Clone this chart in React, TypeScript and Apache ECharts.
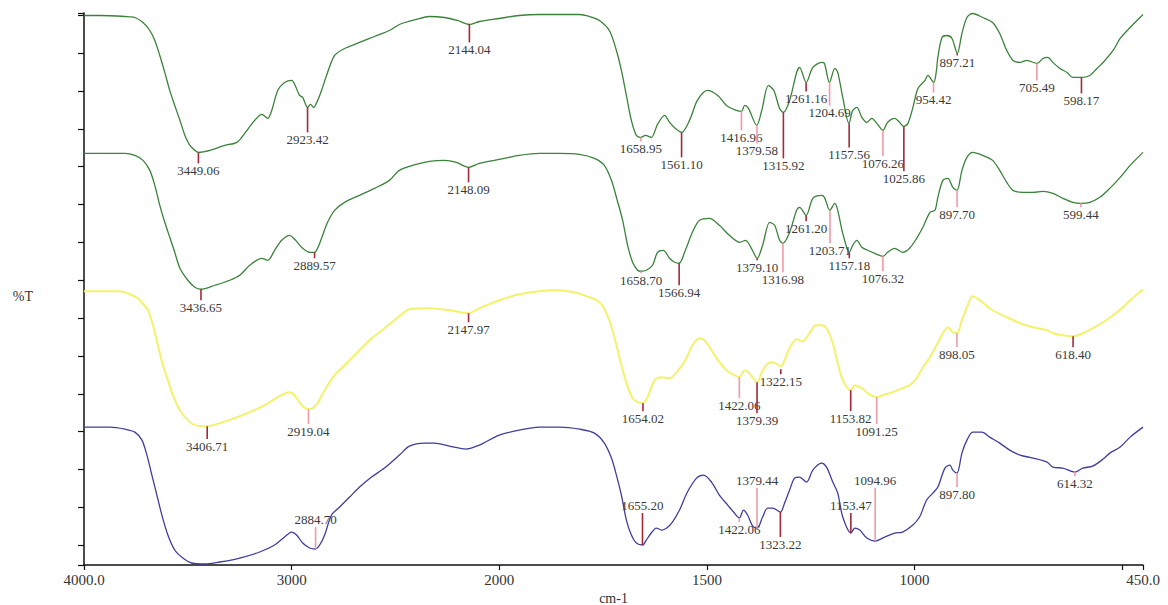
import React, { useEffect, useRef } from "react";
import * as echarts from "echarts";

// x axis (wavenumber, cm-1) ticks and labels
const xTickWavenumbers = [4000, 3000, 2000, 1500, 1000, 500, 450];
const xLabelWavenumbers = [4000, 3000, 2000, 1500, 1000, 450];
const xLabelTexts = ["4000.0", "3000", "2000", "1500", "1000", "450.0"];
// y axis (%T, stacked offset units) tick positions
const yTicks = [0, 20, 58, 96, 134, 171, 209, 247, 285, 323, 361, 399, 436, 474, 512, 550, 552.5];

// spectra: [wavenumber, %T (offset units)]
const spectrumA = [[4000,550],[3923,550],[3803,549],[3755,548],[3716,543],[3683,535],[3659,525],[3635,510],[3611,493],[3587,475],[3563,460],[3538,445],[3514,430],[3490,420],[3466,415],[3449,413],[3394,415],[3322,420],[3264,423],[3226,432],[3178,445],[3144,451],[3115,447],[3096,455],[3067,475],[3034,483],[3000,485],[2981,479],[2962,470],[2947,468],[2923,458],[2909,461],[2894,458],[2875,465],[2856,475],[2832,490],[2793,510],[2745,517],[2673,523],[2601,529],[2529,535],[2481,541],[2400,546],[2337,549],[2264,548],[2202,545],[2144,541],[2096,544],[2000,547],[1952,550],[1904,551],[1855,551],[1807,551],[1783,549],[1759,545],[1735,535],[1718,515],[1706,495],[1694,470],[1682,445],[1670,430],[1659,428],[1648,430],[1634,428],[1619,441],[1602,450],[1590,443],[1576,437],[1561,433],[1542,445],[1523,465],[1499,475],[1474,470],[1453,460],[1429,455],[1417,454],[1409,460],[1400,457],[1380,440],[1368,455],[1352,480],[1339,475],[1325,457],[1316,453],[1301,465],[1284,493],[1277,498],[1261,483],[1245,498],[1224,503],[1217,502],[1205,483],[1192,497],[1185,493],[1173,468],[1158,442],[1149,455],[1139,458],[1127,448],[1115,443],[1103,447],[1091,442],[1076,435],[1065,443],[1048,447],[1036,443],[1026,439],[1016,442],[1004,458],[992,477],[975,485],[968,490],[954,483],[948,493],[944,508],[934,528],[922,530],[910,527],[897,512],[886,532],[874,548],[860,552],[836,548],[812,543],[795,532],[778,515],[763,505],[746,503],[730,505],[705,502],[691,507],[679,508],[667,503],[650,497],[633,493],[619,488],[598,488],[578,490],[561,497],[546,503],[522,515],[505,527],[481,538],[450,551]];
const spectrumB = [[4000,412],[3803,412],[3755,410],[3716,405],[3683,395],[3659,380],[3635,360],[3611,343],[3587,328],[3563,313],[3538,297],[3500,285],[3466,278],[3437,276],[3370,280],[3298,285],[3250,290],[3202,300],[3144,307],[3115,305],[3082,315],[3048,325],[3010,330],[2981,325],[2947,317],[2913,313],[2890,313],[2875,317],[2856,327],[2827,343],[2793,355],[2745,363],[2673,370],[2601,377],[2529,385],[2481,395],[2400,401],[2337,404],[2264,405],[2207,403],[2148,398],[2096,402],[2000,406],[1952,410],[1904,412],[1855,412],[1807,411],[1771,407],[1747,400],[1730,385],[1716,365],[1703,345],[1691,320],[1679,303],[1667,295],[1659,294],[1646,295],[1631,300],[1619,313],[1605,315],[1590,307],[1578,303],[1567,302],[1552,315],[1535,333],[1518,345],[1494,347],[1470,340],[1446,330],[1421,323],[1407,325],[1393,317],[1379,307],[1366,320],[1349,343],[1337,340],[1325,325],[1317,322],[1301,333],[1284,355],[1277,358],[1261,350],[1245,367],[1224,370],[1217,368],[1204,355],[1192,362],[1185,355],[1173,332],[1157,313],[1149,320],[1139,325],[1127,318],[1113,315],[1096,312],[1076,309],[1065,313],[1048,317],[1029,313],[1012,317],[995,327],[980,338],[963,353],[951,355],[944,368],[932,385],[920,387],[908,378],[898,375],[886,395],[874,408],[860,413],[836,410],[812,405],[795,395],[778,383],[763,375],[739,373],[715,373],[691,374],[667,372],[643,367],[619,363],[599,362],[578,363],[554,368],[530,377],[505,388],[481,400],[450,413]];
const spectrumC = [[4000,274],[3827,274],[3779,271],[3740,267],[3731,265],[3692,255],[3668,240],[3644,220],[3620,200],[3596,185],[3572,170],[3538,155],[3500,145],[3466,140],[3407,139],[3346,142],[3274,147],[3202,153],[3130,160],[3058,169],[3010,173],[2986,170],[2952,160],[2919,156],[2899,157],[2875,162],[2841,175],[2793,190],[2745,200],[2697,210],[2625,225],[2553,237],[2481,249],[2433,256],[2337,257],[2240,255],[2148,252],[2096,257],[2000,265],[1952,271],[1904,274],[1863,275],[1819,273],[1783,268],[1766,265],[1752,260],[1735,245],[1718,220],[1706,200],[1692,180],[1679,167],[1667,163],[1654,162],[1643,168],[1626,185],[1609,188],[1590,187],[1573,193],[1552,205],[1535,220],[1518,227],[1506,225],[1489,215],[1470,203],[1453,195],[1434,190],[1422,188],[1409,195],[1400,193],[1379,183],[1368,193],[1356,201],[1342,203],[1322,199],[1315,203],[1301,217],[1284,226],[1270,224],[1253,232],[1238,240],[1224,240],[1212,237],[1197,222],[1185,202],[1173,185],[1154,175],[1144,180],[1127,177],[1113,172],[1091,168],[1077,170],[1053,173],[1029,177],[1012,180],[995,187],[980,198],[963,208],[947,220],[932,232],[920,238],[908,233],[898,232],[886,245],[874,258],[860,269],[843,265],[812,255],[778,248],[746,242],[715,238],[681,235],[667,232],[643,230],[618,229],[595,232],[571,237],[546,243],[522,250],[498,258],[481,265],[450,276]];
const spectrumD = [[4000,138],[3875,138],[3803,136],[3755,133],[3721,125],[3697,110],[3673,90],[3649,70],[3625,50],[3596,30],[3563,15],[3524,7],[3481,2],[3418,1],[3346,3],[3250,7],[3154,13],[3082,20],[3034,28],[3000,33],[2976,30],[2947,22],[2913,17],[2885,16],[2865,20],[2841,30],[2808,50],[2769,58],[2721,68],[2673,78],[2615,88],[2553,97],[2481,110],[2433,119],[2361,122],[2312,122],[2240,119],[2159,116],[2096,120],[2000,130],[1952,135],[1904,138],[1855,138],[1807,136],[1771,132],[1747,122],[1730,107],[1718,90],[1706,70],[1694,45],[1682,30],[1670,22],[1655,20],[1646,25],[1634,32],[1622,37],[1609,35],[1597,37],[1583,43],[1566,55],[1547,73],[1525,87],[1508,90],[1489,83],[1470,70],[1450,60],[1436,53],[1422,47],[1412,55],[1402,50],[1390,39],[1379,37],[1366,48],[1354,57],[1342,57],[1323,53],[1313,62],[1301,75],[1289,87],[1277,88],[1260,83],[1245,95],[1224,102],[1212,98],[1197,83],[1185,72],[1173,48],[1153,32],[1144,37],[1132,35],[1115,27],[1095,24],[1072,28],[1048,32],[1029,33],[1004,40],[988,48],[971,65],[956,72],[944,78],[927,97],[915,100],[908,95],[898,92],[886,112],[874,125],[860,133],[838,133],[819,128],[795,122],[771,115],[746,110],[715,107],[681,103],[667,98],[643,97],[614,93],[595,97],[571,99],[546,106],[530,112],[505,118],[481,128],[450,138]];

// peak picks: [wavenumber, marker start, marker end, strong(1)/weak(0)]
const peaksA = [[3449.06,413,402,1],[2923.42,458,433,1],[2144.04,541,523,1],[1658.95,428,424,0],[1561.10,433,408,1],[1416.96,454,435,0],[1379.58,440,422,0],[1315.92,453,407,1],[1261.16,483,474,1],[1204.69,483,460,0],[1157.56,442,418,1],[1076.26,435,409,0],[1025.86,439,394,1],[954.42,483,473,0],[897.21,512,510,1],[705.49,502,485,0],[598.17,488,472,1]];
const peaksB = [[3436.65,276,265,1],[2889.57,313,307,1],[2148.09,398,383,1],[1658.70,294,292,0],[1566.94,302,280,1],[1379.10,307,305,1],[1316.98,322,293,0],[1261.20,350,344,1],[1203.71,355,322,0],[1157.18,313,307,1],[1076.32,309,294,0],[897.70,375,358,0],[599.44,362,358,0]];
const peaksC = [[3406.71,139,126,1],[2919.04,156,141,0],[2147.97,252,243,1],[1654.02,162,154,1],[1422.06,188,167,0],[1379.39,183,152,1],[1322.15,196,191,1],[1153.82,175,154,1],[1091.25,168,141,0],[898.05,232,218,0],[618.40,229,218,1]];
const peaksD = [[2884.70,16,38,0],[1655.20,20,52,1],[1422.06,47,43,0],[1379.44,37,77,0],[1323.22,53,28,1],[1153.47,32,52,1],[1094.96,24,77,0],[897.80,92,78,0],[614.32,93,89,0]];

// instrument plot: 4000-2000 at one scale, 2000-450 at double scale
function toAxis(w: number): number {
  return w >= 2000 ? 4000 - w : 2000 + 2 * (2000 - w);
}

const SERIF = '"Liberation Serif", "DejaVu Serif", serif';

export default function App() {
  const ref = useRef<HTMLDivElement>(null);
  useEffect(() => {
    if (!ref.current) return;
    const chart = echarts.init(ref.current, null, { renderer: "svg" });
    const curves = [
      { name: "A", data: spectrumA, peaks: peaksA, color: "#3b823b", width: 1.3 },
      { name: "B", data: spectrumB, peaks: peaksB, color: "#3b823b", width: 1.3 },
      { name: "C", data: spectrumC, peaks: peaksC, color: "#f3f26a", width: 2 },
      { name: "D", data: spectrumD, peaks: peaksD, color: "#3e3e9e", width: 1.3 },
    ];
    const series: any[] = [];
    curves.forEach((c) => {
      series.push({
        type: "line",
        name: c.name,
        data: c.data.map(([w, v]) => [toAxis(w), v]),
        showSymbol: false,
        smooth: 0.3,
        clip: false,
        silent: true,
        lineStyle: { color: c.color, width: c.width },
        z: 2,
      });
      const peaks = c.peaks;
      series.push({
        type: "custom",
        name: c.name + "-peaks",
        data: peaks.map(([w, a, b, s]) => [toAxis(w), a, b, s]),
        encode: { x: 0, y: [1, 2] },
        clip: false,
        silent: true,
        z: 3,
        renderItem: (params: any, api: any) => {
          const x = api.value(0);
          const p1 = api.coord([x, api.value(1)]);
          const p2 = api.coord([x, api.value(2)]);
          const strong = api.value(3) === 1;
          const down = p2[1] >= p1[1];
          const label = peaks[params.dataIndex][0].toFixed(2);
          return {
            type: "group",
            children: [
              {
                type: "line",
                shape: { x1: p1[0], y1: p1[1], x2: p2[0], y2: p2[1] },
                style: { stroke: strong ? "#a3293b" : "#f29aa6", lineWidth: 1.6 },
              },
              {
                type: "text",
                x: p2[0],
                y: down ? p2[1] + 1 : p2[1] - 1,
                style: {
                  text: label,
                  fill: "#3a3a3a",
                  fontSize: 13,
                  fontFamily: SERIF,
                  align: "center",
                  verticalAlign: down ? "top" : "bottom",
                },
              },
            ],
          };
        },
      });
    });

    const labelAxisValues = xLabelWavenumbers.map(toAxis);
    chart.setOption({
      animation: false,
      backgroundColor: "#ffffff",
      grid: { left: 84, right: 25, top: 13, bottom: 40, containLabel: false, outerBoundsMode: "none" },
      xAxis: {
        type: "value",
        min: 0,
        max: toAxis(450),
        name: "cm-1",
        nameLocation: "middle",
        nameGap: 19,
        nameTextStyle: { fontFamily: SERIF, fontSize: 14, color: "#333" },
        axisLine: { lineStyle: { color: "#111", width: 1.5 } },
        axisTick: {
          show: true,
          inside: false,
          length: 5,
          customValues: xTickWavenumbers.map(toAxis),
          lineStyle: { color: "#111", width: 1.2 },
        },
        axisLabel: {
          customValues: labelAxisValues,
          margin: 7,
          fontFamily: SERIF,
          fontSize: 15,
          color: "#333",
          formatter: (v: number) => {
            const i = labelAxisValues.findIndex((a) => Math.abs(a - v) < 1e-6);
            return i >= 0 ? xLabelTexts[i] : "";
          },
        },
        splitLine: { show: false },
      },
      yAxis: {
        type: "value",
        min: 0,
        max: 552.5,
        name: "%T",
        nameLocation: "middle",
        nameRotate: 0,
        nameGap: 51,
        nameTextStyle: { fontFamily: SERIF, fontSize: 14, color: "#333", verticalAlign: "top" },
        axisLine: { show: true, lineStyle: { color: "#111", width: 1.5 } },
        axisTick: {
          show: true,
          inside: false,
          length: 6,
          customValues: yTicks,
          lineStyle: { color: "#111", width: 1.2 },
        },
        axisLabel: { show: false },
        splitLine: { show: false },
      },
      series,
    });
    return () => chart.dispose();
  }, []);
  return (
    <div
      ref={ref}
      style={{ position: "fixed", left: 0, top: 0, width: 1168, height: 605, background: "#fff" }}
    />
  );
}
